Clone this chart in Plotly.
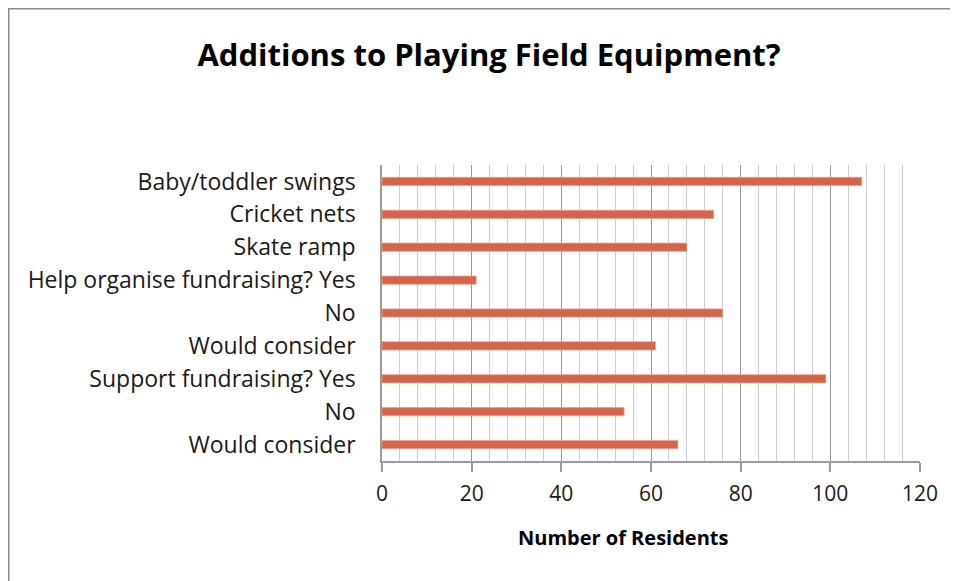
import plotly.graph_objects as go

# Survey responses, top to bottom as drawn
# (zero-width space keeps the repeated "No"/"Would consider" labels distinct)
categories = [
    "Baby/toddler swings",
    "Cricket nets",
    "Skate ramp",
    "Help organise fundraising? Yes",
    "No\u200b",
    "Would consider\u200b",
    "Support fundraising? Yes",
    "No",
    "Would consider",
]
residents = [107, 74, 68, 21, 76, 61, 99, 54, 66]
x_ticks = [0, 20, 40, 60, 80, 100, 120]

BAR = "#D4644A"
MAJOR = "#9A9A9A"
MINOR = "#CFCFCF"
FONT = "Open Sans, sans-serif"

# page has an 8px body margin, so the figure is a bit smaller than the window
W, H = 950, 573
L, T, PW, PH = 374, 157, 538, 296

fig = go.Figure()
fig.add_trace(go.Bar(
    y=categories[::-1], x=residents[::-1],
    orientation="h",
    marker=dict(color=BAR, line=dict(color="#E9A28F", width=0.8)),
    width=0.25,
    hovertemplate="%{y}: %{x}<extra></extra>",
))

fig.update_layout(
    width=W, height=H,
    margin=dict(l=L, r=W - L - PW, t=T, b=H - T - PH),
    paper_bgcolor="white", plot_bgcolor="white",
    font=dict(family=FONT, color="#1A1A1A"),
    showlegend=False,
    title=dict(
        text="<b>Additions to Playing Field Equipment?</b>",
        x=481 / W, xanchor="center", y=1 - 47 / H, yanchor="middle",
        yref="container", font=dict(size=31, color="#000000", family=FONT),
    ),
    xaxis=dict(
        range=[0, 120], tickvals=x_ticks, showgrid=True, gridcolor=MAJOR, gridwidth=1,
        minor=dict(dtick=4, showgrid=True, gridcolor=MINOR, gridwidth=1),
        showline=True, linecolor=MAJOR, linewidth=1.5,
        ticks="outside", ticklen=9, tickcolor=MAJOR, tickwidth=1.5,
        tickfont=dict(size=21, color="#1A1A1A"), ticklabelstandoff=4,
        zeroline=False, fixedrange=True,
    ),
    yaxis=dict(
        showline=True, linecolor=MAJOR, linewidth=1.5,
        tickfont=dict(size=23, color="#1A1A1A"), ticklabelstandoff=20,
        showgrid=False, fixedrange=True,
    ),
)

# axis title sits left of the plot centre in the original
fig.add_annotation(text="<b>Number of Residents</b>", xref="paper", yref="paper",
                   x=(615 - L) / PW, y=-(529 - T - PH) / PH, xanchor="center", yanchor="middle",
                   showarrow=False, font=dict(size=20, color="#000000", family=FONT))

# outer chart frame
fig.add_shape(type="rect", xref="paper", yref="paper",
              x0=(0.75 - L) / PW, x1=(W + 5 - L) / PW,
              y0=-(H + 5 - T - PH) / PH, y1=(T + PH - 0.75) / PH,
              line=dict(color="#8C8C8C", width=1.5), layer="below")

fig.write_html("out.html")
